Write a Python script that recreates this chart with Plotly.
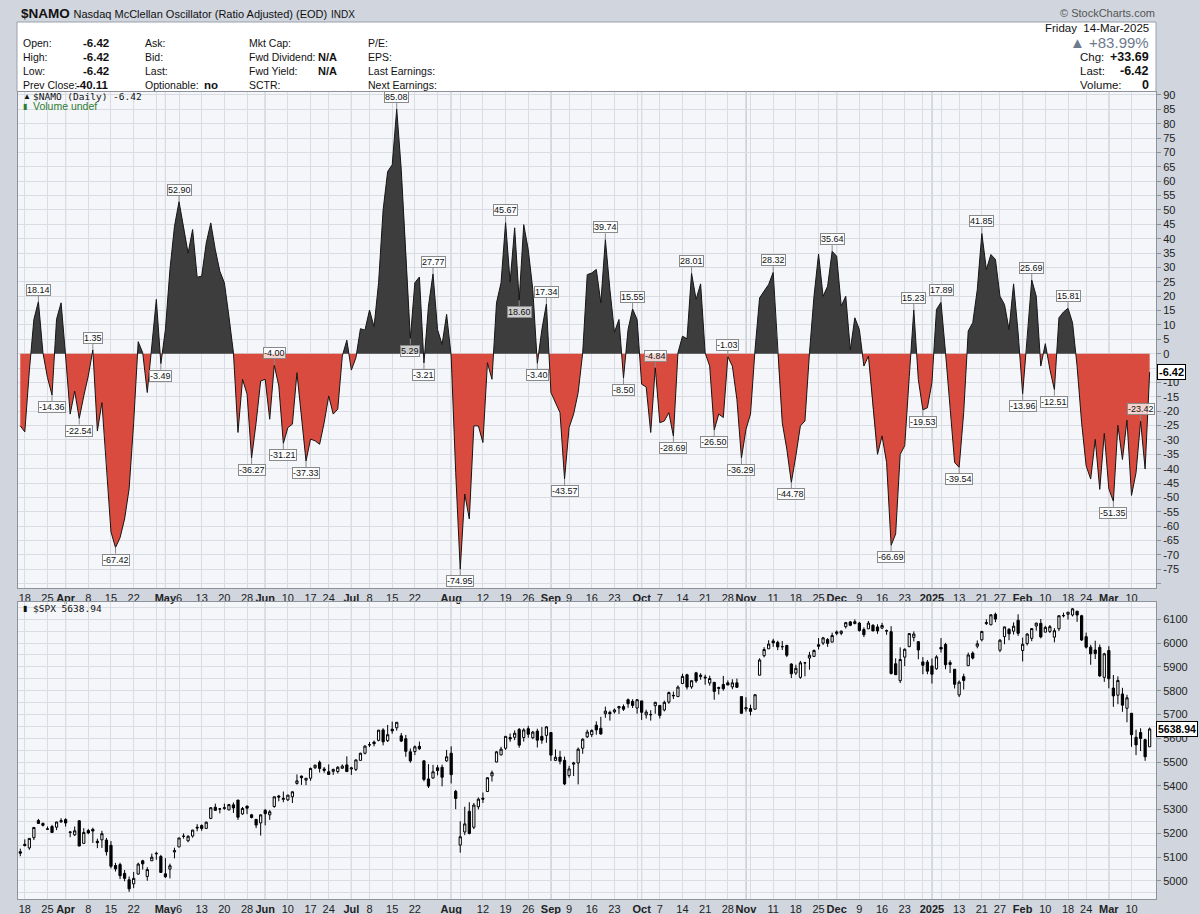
import numpy as np
import pandas as pd
import plotly.graph_objects as go

# ---------------- DATA ----------------
HOLIDAYS = ["2024-03-29", "2024-05-27", "2024-06-19", "2024-07-04", "2024-09-02", "2024-11-28",
            "2024-12-25", "2025-01-01", "2025-01-09", "2025-01-20", "2025-02-17"]
dates = [d for d in pd.bdate_range("2024-03-15", "2025-03-14") if d.strftime("%Y-%m-%d") not in HOLIDAYS]

namo = [
    -25.1, -27.2, -6.0, 11.9, 18.14, 0.3, -8.3, -14.36, 12.0, 17.7,
    -0.8, -21.0, -13.0, -22.54, -14.7, -7.7, 1.35, -26.9, -17.0, -38.0,
    -62.0, -67.42, -64.0, -57.5, -47.0, -24.0, 4.2, 0.3, -13.5, 2.7,
    18.9, -3.49, 8.4, 29.3, 44.3, 52.90, 44.3, 35.0, 43.2, 26.6,
    27.0, 38.5, 45.5, 36.2, 28.7, 24.7, 13.0, 0.3, -27.4, -8.9,
    -14.0, -36.27, -24.0, -9.5, -8.9, -22.8, -4.00, -11.2, -31.21, -25.7,
    -24.5, -6.6, -22.0, -37.33, -29.7, -30.3, -31.5, -24.0, -14.7, -21.0,
    -19.3, -0.8, 4.7, -5.7, -1.4, 8.7, 8.2, 15.2, 9.4, 24.7,
    50.0, 63.4, 65.7, 85.08, 64.0, 36.2, 5.29, 24.7, 26.7, -3.21,
    16.6, 27.77, 8.4, 3.2, 13.7, -0.8, -41.3, -74.95, -48.8, -57.5,
    -25.1, -25.1, -30.9, -3.1, -8.9, 17.7, 24.7, 45.67, 24.9, 43.8,
    18.60, 44.9, 36.2, 22.3, -3.40, 8.4, 17.34, -13.5, -17.0, -20.5,
    -43.57, -25.7, -21.0, -13.5, 0.3, 27.5, 28.1, 29.3, 17.7, 39.74,
    22.3, 7.5, 11.9, -8.50, 8.4, 15.55, 11.9, -10.6, -11.6, -27.4,
    -4.84, -24.0, -23.4, -20.5, -28.69, 0.3, 6.1, 5.2, 28.01, 18.9,
    24.3, 0.3, -4.3, -26.50, -21.0, -22.2, -1.03, -4.3, -15.9, -36.29,
    -26.3, -21.0, 1.5, 19.4, 21.8, 24.1, 28.32, 0.3, -24.0, -33.2,
    -44.78, -35.5, -25.1, -23.4, 0.3, 20.0, 34.7, 20.0, 23.5, 35.64,
    33.9, 16.6, 20.0, 1.3, 12.5, 8.4, -4.3, -0.8, -19.3, -35.0,
    -28.6, -37.8, -66.69, -62.7, -35.0, -32.0, -8.0, 15.23, -9.0, -19.53,
    -18.8, -10.0, 15.4, 17.89, 0.3, -18.2, -37.8, -39.54, -20.5, 7.9,
    10.8, 22.3, 41.85, 29.3, 34.5, 32.8, 20.0, 17.1, 8.4, 24.3,
    7.3, -13.96, 5.0, 25.69, 20.0, -4.3, 3.5, -5.4, -12.51, 12.5,
    14.5, 15.81, 10.8, -4.3, -24.0, -39.0, -43.6, -29.8, -47.2, -27.7,
    -47.0, -51.35, -24.9, -36.8, -23.1, -49.3, -41.4, -23.42, -40.11, -6.42,
]

# positions (into the series) of the labelled highs and lows
peak_pos = [4, 16, 35, 56, 83, 91, 107, 116, 129, 135, 140, 148, 156, 166, 179, 197, 203, 212, 223, 231, 247]
trough_pos = [7, 13, 21, 31, 51, 58, 63, 86, 89, 97, 110, 114, 120, 133, 144, 153, 159, 170, 192, 199,
              207, 221, 228, 241]

spx_open = [
    5123, 5154, 5139, 5182, 5254, 5242, 5219, 5229, 5226, 5248,
    5258, 5204, 5194, 5253, 5158, 5212, 5217, 5167, 5173, 5172, 5150, 5065, 5069, 5032, 5005, 4988, 5029, 5085, 5019, 5085, 5114, 5103,
    5030, 5050, 5122, 5143, 5188, 5169, 5189, 5226, 5233, 5221, 5263, 5310, 5303, 5305, 5299, 5320, 5340, 5282, 5315, 5278, 5259, 5244,
    5297, 5278, 5313, 5357, 5343, 5341, 5354, 5410, 5441, 5424, 5432, 5476, 5499, 5471, 5459, 5461, 5460, 5474, 5488,
    5471, 5469, 5507, 5537, 5572, 5584, 5591, 5635, 5590, 5638, 5644, 5610, 5598, 5543, 5544, 5566, 5505, 5429, 5433, 5476, 5478, 5505,
    5537, 5377, 5151, 5206, 5293, 5226, 5312, 5348, 5376, 5442, 5500, 5530, 5558, 5603, 5604, 5637, 5603, 5640, 5602, 5630, 5608, 5612,
    5624, 5507, 5521, 5507, 5443, 5491, 5496, 5558, 5606, 5615, 5655, 5642, 5703, 5709, 5711, 5727, 5733, 5762, 5755, 5727,
    5757, 5698, 5698, 5737, 5738, 5719, 5752, 5778, 5775, 5830, 5867, 5816, 5875, 5859, 5857, 5832, 5835, 5813, 5826, 5833, 5816, 5833, 5775,
    5723, 5725, 5722, 5865, 5947, 5976, 6009, 6003, 5985, 5990, 5912, 5874, 5856, 5917, 5937, 5944, 5993, 6000, 6015, 6004,
    6040, 6041, 6069, 6089, 6082, 6084, 6057, 6060, 6075, 6068, 6063, 6052, 6048, 5913, 5842, 5941, 5985, 6024, 6006, 5921, 5920,
    5904, 5892, 5982, 5994, 5910, 5890, 5782, 5859, 5905, 5958, 5987, 6014, 6082, 6077, 6121, 5970, 6027, 6058, 6050, 6096,
    5969, 5998, 6020, 6072, 6083, 6046, 6049, 6025, 6060, 6116, 6121, 6118, 6134, 6115, 6027, 5983, 5971, 5982, 5856,
    5969, 5811, 5781, 5786, 5726, 5705, 5604, 5624, 5594, 5564,
]
spx_high = [
    5136, 5175, 5180, 5225, 5261, 5246, 5229, 5236, 5249, 5264,
    5264, 5208, 5229, 5256, 5222, 5219, 5224, 5178, 5211, 5181, 5168, 5076, 5077, 5046, 5019, 5038, 5077, 5089, 5058, 5115, 5123, 5110,
    5096, 5073, 5140, 5181, 5200, 5192, 5215, 5239, 5238, 5250, 5311, 5325, 5306, 5325, 5324, 5330, 5341, 5311, 5316, 5282, 5260, 5280,
    5303, 5298, 5354, 5362, 5376, 5362, 5376, 5448, 5443, 5432, 5477, 5488, 5506, 5479, 5490, 5472, 5483, 5490, 5524,
    5480, 5510, 5539, 5570, 5584, 5590, 5635, 5642, 5656, 5670, 5667, 5622, 5614, 5557, 5570, 5586, 5508, 5491, 5488, 5487, 5489, 5551,
    5566, 5383, 5251, 5312, 5331, 5328, 5351, 5372, 5436, 5464, 5546, 5564, 5609, 5620, 5633, 5643, 5642, 5652, 5631, 5640, 5647, 5651,
    5626, 5553, 5547, 5523, 5484, 5501, 5561, 5600, 5636, 5637, 5671, 5690, 5733, 5716, 5725, 5736, 5742, 5767, 5764, 5765,
    5757, 5720, 5718, 5753, 5739, 5758, 5796, 5796, 5822, 5871, 5871, 5843, 5879, 5873, 5867, 5863, 5836, 5817, 5862, 5843, 5848, 5851, 5775,
    5772, 5741, 5784, 5936, 5983, 6012, 6018, 6010, 6009, 5993, 5915, 5909, 5925, 5921, 5963, 5973, 6021, 6026, 6021, 6044,
    6053, 6053, 6089, 6093, 6100, 6089, 6066, 6093, 6079, 6079, 6085, 6057, 6071, 5936, 5982, 5978, 6040, 6049, 6007, 5941, 5929,
    5935, 5949, 6021, 6001, 5928, 5890, 5843, 5871, 5960, 5965, 6011, 6051, 6100, 6119, 6128, 6017, 6069, 6063, 6087, 6121,
    6023, 6042, 6062, 6085, 6101, 6073, 6076, 6063, 6116, 6128, 6130, 6147, 6135, 6119, 6044, 5993, 6010, 5994, 5959,
    5987, 5866, 5860, 5812, 5783, 5705, 5636, 5642, 5598, 5645,
]
spx_low = [
    5104, 5145, 5131, 5172, 5240, 5229, 5216, 5203, 5214, 5246,
    5229, 5184, 5189, 5146, 5157, 5197, 5160, 5138, 5139, 5107, 5053, 5040, 5008, 4999, 4954, 4970, 5027, 5048, 5001, 5084, 5089, 5035,
    5013, 5011, 5095, 5143, 5178, 5163, 5182, 5209, 5211, 5219, 5260, 5296, 5284, 5299, 5297, 5286, 5257, 5278, 5281, 5263, 5222, 5191,
    5234, 5257, 5308, 5335, 5331, 5336, 5328, 5405, 5404, 5403, 5421, 5471, 5456, 5455, 5447, 5446, 5452, 5471, 5458,
    5446, 5462, 5507, 5532, 5563, 5566, 5587, 5570, 5584, 5619, 5632, 5584, 5522, 5497, 5529, 5551, 5419, 5391, 5430, 5444, 5398, 5501,
    5410, 5302, 5119, 5193, 5196, 5218, 5301, 5328, 5376, 5418, 5499, 5528, 5551, 5585, 5592, 5560, 5586, 5602, 5596, 5561, 5577, 5581,
    5505, 5504, 5490, 5403, 5434, 5441, 5406, 5535, 5601, 5605, 5615, 5615, 5686, 5674, 5704, 5702, 5715, 5728, 5727, 5703,
    5677, 5683, 5674, 5703, 5683, 5713, 5745, 5765, 5775, 5829, 5805, 5808, 5833, 5846, 5825, 5821, 5762, 5784, 5800, 5823, 5806, 5813, 5703,
    5712, 5696, 5722, 5865, 5940, 5976, 5984, 5970, 5971, 5941, 5853, 5866, 5850, 5860, 5888, 5944, 5973, 5992, 5984, 6004,
    6033, 6033, 6061, 6071, 6079, 6048, 6025, 6060, 6051, 6039, 6059, 6035, 5868, 5867, 5832, 5903, 5983, 6007, 5932, 5869, 5869,
    5830, 5888, 5960, 5890, 5874, 5809, 5773, 5805, 5905, 5931, 5978, 6007, 6076, 6075, 6088, 5962, 5995, 6012, 6036, 6030,
    5923, 5990, 6008, 6052, 6020, 6046, 6042, 6003, 6051, 6108, 6099, 6112, 6089, 6009, 5977, 5909, 5933, 5858, 5837,
    5810, 5732, 5743, 5711, 5667, 5564, 5529, 5546, 5505, 5564,
]
spx_close = [
    5117, 5149, 5179, 5225, 5242, 5234, 5218, 5204, 5248, 5254,
    5244, 5206, 5211, 5147, 5204, 5202, 5210, 5161, 5199, 5123, 5062, 5051, 5022, 5011, 4967, 5011, 5071, 5072, 5048, 5100, 5116, 5036,
    5018, 5064, 5128, 5181, 5188, 5188, 5214, 5223, 5221, 5247, 5308, 5297, 5303, 5308, 5321, 5307, 5268, 5305, 5306, 5267, 5235, 5278,
    5283, 5291, 5354, 5353, 5347, 5361, 5375, 5421, 5434, 5432, 5473, 5487, 5473, 5465, 5448, 5469, 5478, 5483, 5460,
    5475, 5509, 5537, 5567, 5573, 5577, 5634, 5585, 5615, 5631, 5667, 5588, 5545, 5505, 5564, 5556, 5427, 5399, 5459, 5464, 5436, 5522,
    5447, 5347, 5186, 5240, 5200, 5319, 5344, 5344, 5434, 5455, 5543, 5554, 5608, 5597, 5621, 5571, 5635, 5617, 5626, 5592, 5592, 5648,
    5529, 5520, 5503, 5408, 5471, 5496, 5554, 5596, 5626, 5633, 5635, 5618, 5714, 5703, 5719, 5733, 5722, 5745, 5738, 5762,
    5709, 5710, 5700, 5751, 5696, 5751, 5792, 5780, 5815, 5860, 5815, 5842, 5841, 5865, 5854, 5851, 5797, 5810, 5808, 5824, 5833, 5814, 5705,
    5729, 5713, 5783, 5929, 5973, 5996, 6001, 5984, 5985, 5949, 5871, 5894, 5917, 5917, 5949, 5969, 5987, 6022, 5999, 6032,
    6047, 6050, 6086, 6075, 6090, 6053, 6035, 6084, 6051, 6051, 6074, 6051, 5872, 5867, 5931, 5974, 6040, 6038, 5971, 5907, 5882,
    5869, 5942, 5975, 5909, 5918, 5827, 5836, 5843, 5950, 5937, 5997, 6049, 6086, 6119, 6101, 6012, 6068, 6039, 6071, 6041,
    5995, 6038, 6061, 6084, 6026, 6066, 6069, 6052, 6115, 6115, 6130, 6144, 6118, 6013, 5983, 5955, 5956, 5862, 5955,
    5850, 5778, 5843, 5739, 5770, 5615, 5572, 5599, 5522, 5638.94,
]

tick_dates = ["2024-03-18", "2024-03-25", "2024-04-01", "2024-04-08", "2024-04-15", "2024-04-22", "2024-05-01",
              "2024-05-06", "2024-05-13", "2024-05-20", "2024-05-28", "2024-06-03", "2024-06-10", "2024-06-17",
              "2024-06-24", "2024-07-01", "2024-07-08", "2024-07-15", "2024-07-22", "2024-08-01", "2024-08-12",
              "2024-08-19", "2024-08-26", "2024-09-03", "2024-09-09", "2024-09-16", "2024-09-23", "2024-10-01",
              "2024-10-07", "2024-10-14", "2024-10-21", "2024-10-28", "2024-11-01", "2024-11-11", "2024-11-18",
              "2024-11-25", "2024-12-02", "2024-12-09", "2024-12-16", "2024-12-23", "2025-01-02", "2025-01-13",
              "2025-01-21", "2025-01-27", "2025-02-03", "2025-02-10", "2025-02-18", "2025-02-24", "2025-03-03",
              "2025-03-10"]
tick_text = ["18", "25", "Apr", "8", "15", "22", "May", "6", "13", "20", "28", "Jun", "10", "17", "24", "Jul", "8",
             "15", "22", "Aug", "12", "19", "26", "Sep", "9", "16", "23", "Oct", "7", "14", "21", "28", "Nov", "11",
             "18", "25", "Dec", "9", "16", "23", "2025", "13", "21", "27", "Feb", "10", "18", "24", "Mar", "10"]
month_names = {"Apr", "May", "Jun", "Jul", "Aug", "Sep", "Oct", "Nov", "Dec", "2025", "Feb", "Mar"}

# ---------------- helpers ----------------
N = len(dates)
xs = list(range(N))
dstr = [d.strftime("%Y-%m-%d") for d in dates]
pos_of = {s: k for k, s in enumerate(dstr)}

# gridline positions: first trading day of each week and each month
grid_pos = []
month_pos = []
for k in range(1, N):
    if dates[k].isocalendar()[1] != dates[k - 1].isocalendar()[1]:
        grid_pos.append(k)
    if dates[k].month != dates[k - 1].month:
        month_pos.append(k)
        if k not in grid_pos:
            grid_pos.append(k)
grid_pos.sort()
label_of = {pos_of[d]: t for d, t in zip(tick_dates, tick_text)}
tvals = grid_pos
ttext = []
for k in grid_pos:
    t = label_of.get(k, "")
    ttext.append(f"<b>{t}</b>" if t in month_names else t)

# split the area into the part above and below zero (crossing points interpolated)
px_, py_, nx_, ny_ = [], [], [], []
for k in range(N):
    v = namo[k]
    if k > 0:
        a = namo[k - 1]
        if (a > 0 and v < 0) or (a < 0 and v > 0):
            xc = (k - 1) + a / (a - v)
            px_.append(xc); py_.append(0); nx_.append(xc); ny_.append(0)
    px_.append(k); py_.append(max(v, 0))
    nx_.append(k); ny_.append(min(v, 0))

FONT = "Liberation Sans, Arial, sans-serif"
FRAME = "#d0d5de"
PLOTBG = "#f4f6f9"
GRID = "#d9dce2"
MONTHGRID = "#a9adb5"

L, R, T, B = 18, 44, 92, 15
W, H = 1200, 914
PW, PH = W - L - R, H - T - B


def pxx(p):
    return (p - L) / PW


def pxy(p):
    return (H - B - p) / PH


top_dom = [pxy(588), 1.0]
bot_dom = [0.0, pxy(602)]

fig = go.Figure()
fig.add_trace(go.Scatter(x=px_, y=py_, fill="tozeroy", mode="none", fillcolor="#3d3d3d",
                         hoverinfo="skip", showlegend=False))
fig.add_trace(go.Scatter(x=nx_, y=ny_, fill="tozeroy", mode="none", fillcolor="#d84b3e",
                         hoverinfo="skip", showlegend=False))
fig.add_trace(go.Scatter(x=xs, y=namo, mode="lines", line=dict(color="#151515", width=1),
                         showlegend=False, hoverinfo="skip"))
fig.add_trace(go.Candlestick(x=xs, open=spx_open, high=spx_high, low=spx_low, close=spx_close,
                             xaxis="x2", yaxis="y2", whiskerwidth=0,
                             increasing=dict(line=dict(color="#000000", width=1), fillcolor="#ffffff"),
                             decreasing=dict(line=dict(color="#000000", width=1), fillcolor="#000000"),
                             showlegend=False, hoverinfo="skip"))

xrange = [-0.5, N - 1 + 1.4]
xcommon = dict(range=xrange, tickvals=tvals, ticktext=ttext, showgrid=True, gridcolor=GRID, gridwidth=1,
               zeroline=False, showline=True, mirror=True, linecolor="#8d929b", ticks="", ticklen=0,
               tickfont=dict(family=FONT, size=11, color="#222"), tickangle=0, fixedrange=True,
               automargin=False)
top_ticks = list(range(-80, 91, 5))
fig.update_layout(
    width=W, height=H, margin=dict(l=L, r=R, t=T, b=B, autoexpand=False),
    paper_bgcolor=FRAME, plot_bgcolor=PLOTBG, showlegend=False, hovermode=False,
    xaxis=dict(domain=[0, 1], anchor="y", **xcommon),
    xaxis2=dict(domain=[0, 1], anchor="y2", rangeslider=dict(visible=False), **xcommon),
    yaxis=dict(domain=top_dom, anchor="x", side="right", range=[-81.5, 91.04],
               tickvals=top_ticks, ticktext=["" if v in (-80, -5) else str(v) for v in top_ticks],
               showgrid=True, gridcolor=GRID, zeroline=False, showline=True, mirror=True, linecolor="#8d929b",
               ticks="outside", ticklen=4, tickcolor="#8d929b", tickfont=dict(family=FONT, size=11, color="#222"),
               fixedrange=True, automargin=False),
    yaxis2=dict(domain=bot_dom, anchor="x2", side="right", range=[4924.3, 6172.7],
                tickvals=list(range(5000, 6101, 100)), showgrid=True, gridcolor=GRID, zeroline=False,
                showline=True, mirror=True, linecolor="#8d929b", ticks="outside", ticklen=4, tickcolor="#8d929b",
                tickfont=dict(family=FONT, size=11, color="#222"),
                minor=dict(tickvals=list(range(4950, 6200, 50)), showgrid=True, gridcolor=GRID, ticks=""),
                fixedrange=True, automargin=False),
)

shapes = []
for k in month_pos:
    for yr in ("y domain", "y2 domain"):
        shapes.append(dict(type="line", xref="x" if yr == "y domain" else "x2", yref=yr, x0=k, x1=k, y0=0, y1=1,
                           line=dict(color=MONTHGRID, width=1), layer="below"))
# header info box
shapes.append(dict(type="rect", xref="paper", yref="paper", x0=pxx(17), x1=pxx(1156), y0=pxy(91.5), y1=pxy(22),
                   fillcolor="#ffffff", line=dict(color="#9aa1ad", width=1), layer="below"))
fig.update_layout(shapes=shapes)

ann = []
# peak / trough value tags
for k in peak_pos:
    ann.append(dict(x=k, y=namo[k], xref="x", yref="y", text=f"{namo[k]:.2f}", showarrow=True, ax=0, ay=-6,
                    yanchor="bottom", arrowhead=0, arrowwidth=1, arrowcolor="#8a8a8a", standoff=0,
                    bordercolor="#8a8a8a", borderwidth=1, borderpad=0, bgcolor="rgba(255,255,255,0.75)",
                    font=dict(family=FONT, size=9, color="#111")))
for k in trough_pos:
    ann.append(dict(x=k, y=namo[k], xref="x", yref="y", text=f"{namo[k]:.2f}", showarrow=True, ax=0, ay=6,
                    yanchor="top", arrowhead=0, arrowwidth=1, arrowcolor="#8a8a8a", standoff=0,
                    bordercolor="#8a8a8a", borderwidth=1, borderpad=0, bgcolor="rgba(255,255,255,0.75)",
                    font=dict(family=FONT, size=9, color="#111")))

# last value tags on the right axis
ann.append(dict(x=1, y=namo[-1], xref="paper", yref="y", xanchor="left", yanchor="middle", xshift=1,
                text=f"<b>{namo[-1]:.2f}</b>", showarrow=False, bgcolor="#ffffff", bordercolor="#000",
                borderwidth=1, borderpad=1, font=dict(family=FONT, size=11, color="#000")))
ann.append(dict(x=1, y=spx_close[-1], xref="paper", yref="y2", xanchor="left", yanchor="middle", xshift=0,
                text=f"<b>{spx_close[-1]:.2f}</b>", showarrow=False, bgcolor="#ffffff", bordercolor="#000",
                borderwidth=1, borderpad=1, font=dict(family=FONT, size=10.5, color="#000")))


def txt(x, y, s, size=11, color="#111", anchor="left", family=FONT):
    ann.append(dict(x=pxx(x), y=pxy(y), xref="paper", yref="paper", text=s, showarrow=False, xanchor=anchor,
                    yanchor="middle", font=dict(family=family, size=size, color=color)))


# panel legends
txt(21, 97, "▲", size=8, color="#111")
txt(31, 97, f"$NAMO (Daily) {namo[-1]:.2f}", size=9.5, family="DejaVu Sans Mono, monospace")
txt(21, 106, "▮", size=8, color="#2f7d32")
txt(31, 106, "Volume undef", size=10.5, color="#2f7d32")
txt(21, 608, "▮", size=8, color="#111")
txt(31, 608, f"$SPX {spx_close[-1]:.2f}", size=9.5, family="DejaVu Sans Mono, monospace")

# header
txt(19, 13, "<b>$NAMO</b> <span style='font-size:11px'>Nasdaq McClellan Oscillator (Ratio Adjusted) (EOD)</span>"
            " <span style='font-size:10px'>INDX</span>", size=13.5)
txt(1157, 13, "© StockCharts.com", size=11, color="#555", anchor="right")
rows = [43, 57, 71, 85]
for y, lab, val in zip(rows, ["Open:", "High:", "Low:", "Prev Close:"], ["-6.42", "-6.42", "-6.42", "-40.11"]):
    txt(21, y, lab, size=10.5)
    txt(111, y, f"<b>{val}</b>", size=11.5, anchor="right")
for y, lab in zip(rows, ["Ask:", "Bid:", "Last:", "Optionable:"]):
    txt(143, y, lab, size=10.5)
txt(202, rows[3], "<b>no</b>", size=11.5)
for y, lab in zip(rows, ["Mkt Cap:", "Fwd Dividend:", "Fwd Yield:", "SCTR:"]):
    txt(247, y, lab, size=10.5)
txt(316, rows[1], "<b>N/A</b>", size=11)
txt(316, rows[2], "<b>N/A</b>", size=11)
for y, lab in zip(rows, ["P/E:", "EPS:", "Last Earnings:", "Next Earnings:"]):
    txt(366, y, lab, size=10.5)
txt(1151, 28, "Friday  14-Mar-2025", size=11.5, anchor="right")
txt(1151, 43, "▲ +83.99%", size=15, color="#6d7a8c", anchor="right")
for y, lab, val in zip([57, 71, 85], ["Chg:", "Last:", "Volume:"], ["+33.69", "-6.42", "0"]):
    txt(1078, y, lab, size=11.5)
    txt(1151, y, f"<b>{val}</b>", size=12.5, anchor="right")

fig.update_layout(annotations=ann)
fig.write_html("out.html", include_plotlyjs=True,
               config={"displayModeBar": False, "staticPlot": True},
               post_script="document.body.style.margin='0';document.body.style.overflow='hidden';")
